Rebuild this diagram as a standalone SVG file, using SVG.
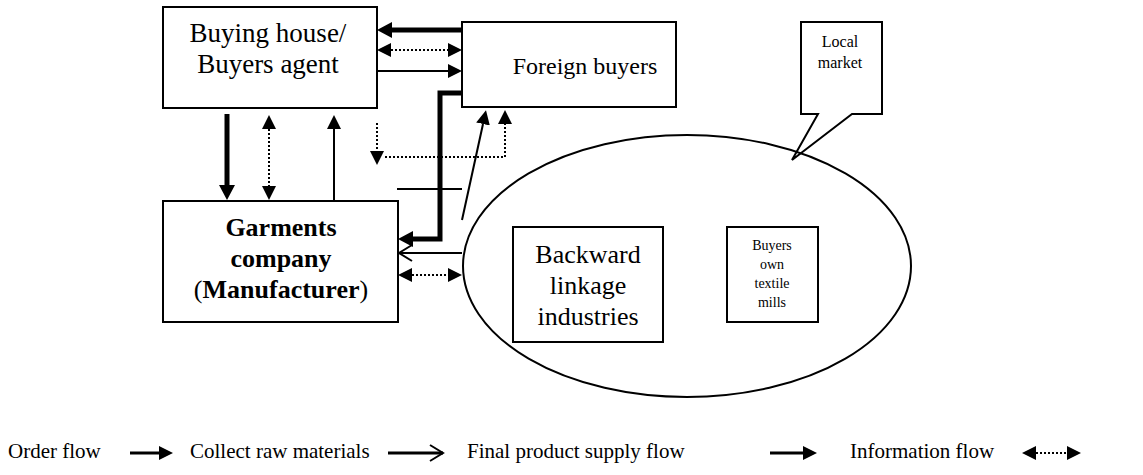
<svg xmlns="http://www.w3.org/2000/svg" width="1143" height="475" viewBox="0 0 1143 475">
<style>
.box{fill:#fff;stroke:#000;stroke-width:2}
.t{font-family:"Liberation Serif",serif;fill:#000;text-anchor:middle}
.big{font-size:26px}
.bold{font-weight:bold}
.sm{font-size:14px}
.leg{font-family:"Liberation Serif",serif;font-size:21px;fill:#000}
.thick{stroke:#000;stroke-width:5;fill:none}
.thin{stroke:#000;stroke-width:2;fill:none}
.dot{stroke:#000;stroke-width:2;stroke-dasharray:2,2;fill:none}
</style>
<defs>
<marker id="ah" markerUnits="userSpaceOnUse" markerWidth="15" markerHeight="16" refX="0" refY="8" orient="auto-start-reverse" viewBox="0 0 15 16">
<path d="M0,0 L15,8 L0,16 z" fill="#000"/>
</marker>
<marker id="ahs" markerUnits="userSpaceOnUse" markerWidth="14" markerHeight="14" refX="0" refY="7" orient="auto-start-reverse" viewBox="0 0 14 14">
<path d="M0,0 L14,7 L0,14 z" fill="#000"/>
</marker>
<marker id="open" markerUnits="userSpaceOnUse" markerWidth="16" markerHeight="20" refX="14" refY="10" orient="auto" viewBox="0 0 16 20">
<path d="M1,2 L14,10 L1,18" fill="none" stroke="#000" stroke-width="2"/>
</marker>
</defs>

<g id="buying-house">
<rect class="box" x="163" y="7" width="214" height="101"/>
<text class="t" style="font-size:27px" x="268" y="42">Buying house/</text>
<text class="t" style="font-size:27px" x="268" y="73">Buyers agent</text>
</g>

<g id="foreign-buyers">
<rect class="box" x="462" y="22" width="214" height="85"/>
<text class="t" style="font-size:24px" x="585" y="74">Foreign buyers</text>
</g>

<g id="local-market-callout">
<path d="M801,22 H882 V114 H852 L792,160 L818,114 H801 Z" fill="#fff" stroke="#000" stroke-width="2"/>
<text class="t" style="font-size:16px" x="840" y="47">Local</text>
<text class="t" style="font-size:16px" x="840" y="68">market</text>
</g>

<g id="garments-company">
<rect class="box" x="163" y="201" width="235" height="121"/>
<text class="t big bold" x="281" y="236">Garments</text>
<text class="t big bold" x="281" y="267">company</text>
<text class="t big" x="281" y="298">(<tspan class="bold">Manufacturer</tspan>)</text>
</g>

<g id="local-market">
<ellipse cx="687" cy="266" rx="224" ry="131" fill="none" stroke="#000" stroke-width="2"/>
</g>

<g id="backward-linkage">
<rect class="box" x="513" y="227" width="150" height="115"/>
<text class="t big" x="588" y="263">Backward</text>
<text class="t big" x="588" y="294">linkage</text>
<text class="t big" x="588" y="325">industries</text>
</g>

<g id="buyers-own-mills">
<rect class="box" x="727" y="227" width="91" height="95"/>
<text class="t sm" x="772" y="250">Buyers</text>
<text class="t sm" x="772" y="269">own</text>
<text class="t sm" x="772" y="288">textile</text>
<text class="t sm" x="772" y="307">mills</text>
</g>

<g id="connectors">
<line class="thick" x1="462" y1="30" x2="392" y2="30" marker-end="url(#ah)"/>
<line class="dot" x1="391" y1="50" x2="448" y2="50" marker-start="url(#ahs)" marker-end="url(#ahs)"/>
<line class="thin" x1="377" y1="71" x2="448" y2="71" marker-end="url(#ahs)"/>
<path class="thick" d="M462,93 H440 V239 H413" marker-end="url(#ah)"/>
<line class="thin" x1="462" y1="253" x2="399" y2="253" marker-end="url(#open)"/>
<line class="dot" x1="412" y1="275" x2="448" y2="275" marker-start="url(#ahs)" marker-end="url(#ahs)"/>
<line class="thin" x1="397" y1="189" x2="462" y2="189" stroke-width="1.5"/>
<line class="thin" x1="462" y1="220" x2="483" y2="124" marker-end="url(#ahs)"/>
<line class="dot" x1="377" y1="123" x2="377" y2="151" marker-end="url(#ahs)"/>
<polyline class="dot" points="385,157 505,157 505,124" marker-end="url(#ahs)"/>
<line class="thick" x1="227" y1="114" x2="227" y2="185" marker-end="url(#ah)"/>
<line class="dot" x1="269" y1="129" x2="269" y2="186" marker-start="url(#ahs)" marker-end="url(#ahs)"/>
<line class="thin" x1="334" y1="201" x2="334" y2="129" marker-end="url(#ahs)"/>
</g>

<g id="legend">
<text class="leg" x="8" y="458">Order flow</text>
<line stroke="#000" stroke-width="3" x1="130" y1="453" x2="159" y2="453" marker-end="url(#ahs)"/>
<text class="leg" x="190" y="458">Collect raw materials</text>
<line stroke="#000" stroke-width="3" x1="388" y1="453" x2="443" y2="453" marker-end="url(#open)"/>
<text class="leg" x="467" y="458">Final product supply flow</text>
<line stroke="#000" stroke-width="3" x1="770" y1="453" x2="803" y2="453" marker-end="url(#ahs)"/>
<text class="leg" x="850" y="458">Information flow</text>
<line class="dot" x1="1036" y1="453" x2="1067" y2="453" marker-start="url(#ahs)" marker-end="url(#ahs)"/>
</g>
</svg>
